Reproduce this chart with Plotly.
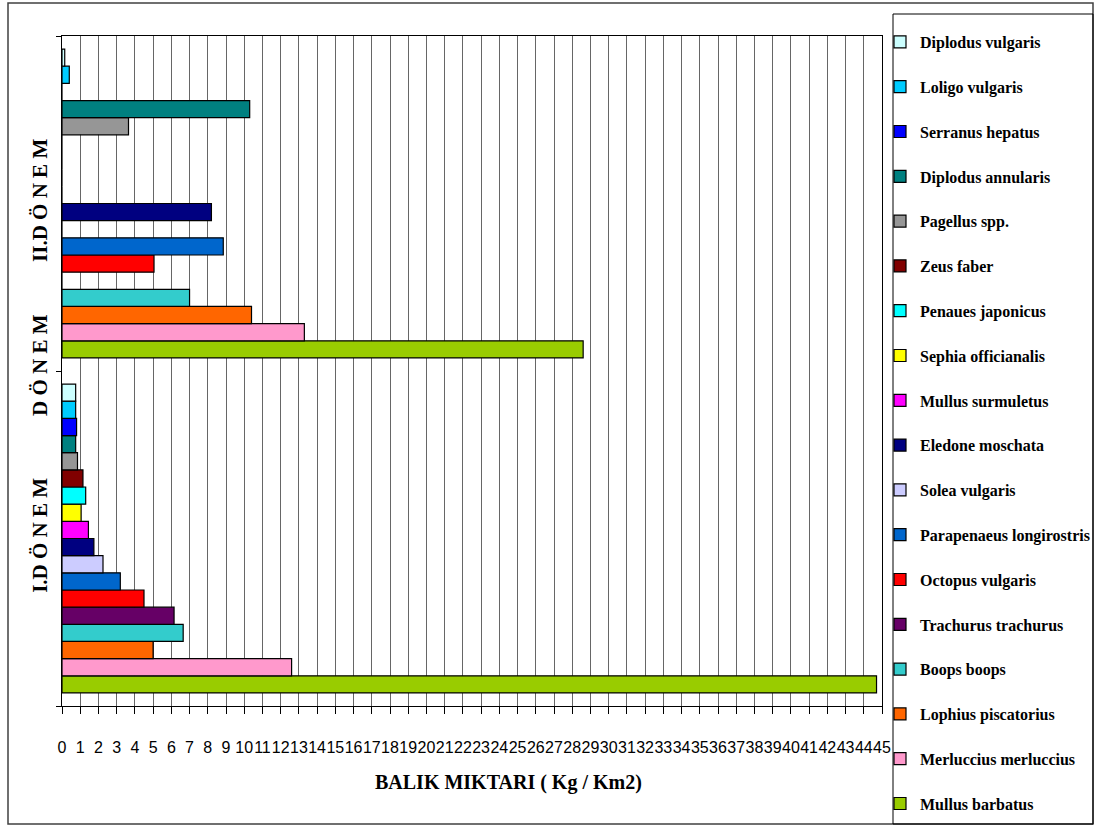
import plotly.graph_objects as go

# Categories (bottom to top)
periods = ["I.D Ö N E M", "II.D Ö N E M"]

# Species, listed bottom-to-top within each period group
species = [
    "Mullus barbatus", "Merluccius merluccius", "Lophius piscatorius", "Boops boops",
    "Trachurus trachurus", "Octopus vulgaris", "Parapenaeus longirostris", "Solea vulgaris",
    "Eledone moschata", "Mullus surmuletus", "Sephia officianalis", "Penaues japonicus",
    "Zeus faber", "Pagellus spp.", "Diplodus annularis", "Serranus hepatus",
    "Loligo vulgaris", "Diplodus vulgaris",
]
period1 = [44.7, 12.6, 5.0, 6.65, 6.15, 4.5, 3.2, 2.25, 1.75, 1.45, 1.05, 1.3, 1.15, 0.85, 0.75, 0.8, 0.75, 0.75]
period2 = [28.6, 13.3, 10.4, 7.0, 0, 5.05, 8.85, 0, 8.2, 0, 0, 0, 0, 3.65, 10.3, 0, 0.4, 0.15]
colors = [
    "#99CC00", "#FF99CC", "#FF6600", "#33CCCC", "#660066", "#FF0000", "#0066CC", "#CCCCFF",
    "#000080", "#FF00FF", "#FFFF00", "#00FFFF", "#800000", "#969696", "#008080", "#0000FF",
    "#00CCFF", "#CCFFFF",
]
x_ticks = list(range(0, 46))

W, H = 1099, 826
L, R, T, B = 62, 882, 36, 706


def px(x):
    return (x - L) / (R - L)


def py(y):
    return (B - y) / (B - T)


fig = go.Figure()
n = len(species)
for i, (name, v1, v2, c) in enumerate(zip(species, period1, period2, colors)):
    fig.add_trace(go.Bar(
        y=periods, x=[v1, v2], name=name, orientation="h",
        marker=dict(color=c, line=dict(color="black", width=1.2)),
        legendgroup=name, legendrank=n - i,
    ))

serif = "Liberation Serif, Times New Roman, serif"
narrow = "Liberation Sans Narrow, Arial Narrow, Liberation Sans, sans-serif"

fig.update_layout(
    width=W, height=H,
    margin=dict(l=L, r=W - R, t=T, b=H - B, pad=0, autoexpand=False),
    paper_bgcolor="white", plot_bgcolor="white",
    barmode="group", bargap=0.078, bargroupgap=0,
    showlegend=True,
    legend=dict(
        xref="paper", x=px(880), xanchor="left",
        yref="container", y=(H - 25) / H, yanchor="top",
        maxheight=1,
        traceorder="grouped", tracegroupgap=21,
        font=dict(family=serif, size=16, color="black", weight="bold"),
        bgcolor="rgba(0,0,0,0)", borderwidth=0,
    ),
    xaxis=dict(
        range=[0, 45], tickvals=x_ticks, ticktext=[str(t) for t in x_ticks],
        tickangle=0, showgrid=True, gridcolor="#666666", gridwidth=1,
        ticks="outside", ticklen=7, tickcolor="black", tickwidth=1,
        showline=True, linecolor="black", linewidth=1, mirror=True,
        tickfont=dict(family=narrow, size=16, color="black"),
        ticklabelstandoff=20, zeroline=False, fixedrange=True,
    ),
    yaxis=dict(
        type="category", categoryorder="array", categoryarray=periods,
        tickangle=-90, ticks="outside", ticklen=5, tickcolor="black",
        tickson="boundaries", showline=True, linecolor="black", linewidth=1,
        mirror=True, showgrid=False,
        tickfont=dict(family=serif, size=21, color="black", weight="bold"),
        ticklabelstandoff=6, fixedrange=True,
    ),
    annotations=[
        dict(text="BALIK MIKTARI ( Kg / Km2)", xref="paper", yref="paper",
             x=px(508), y=py(783), showarrow=False, xanchor="center", yanchor="middle",
             font=dict(family=serif, size=20, color="black", weight="bold")),
        dict(text="D Ö N E M", xref="paper", yref="paper",
             x=px(40), y=py(365), showarrow=False, textangle=-90,
             xanchor="center", yanchor="middle",
             font=dict(family=serif, size=21, color="black", weight="bold")),
    ],
    shapes=[
        dict(type="rect", xref="paper", yref="paper", x0=px(8), x1=px(1093), y0=py(824), y1=py(3),
             line=dict(color="#404040", width=1.5), fillcolor="rgba(0,0,0,0)", layer="below"),
        dict(type="rect", xref="paper", yref="paper", x0=px(893), x1=px(1093), y0=py(824), y1=py(14),
             line=dict(color="black", width=1), fillcolor="rgba(0,0,0,0)", layer="below"),
    ],
)

fig.write_html("out.html")
